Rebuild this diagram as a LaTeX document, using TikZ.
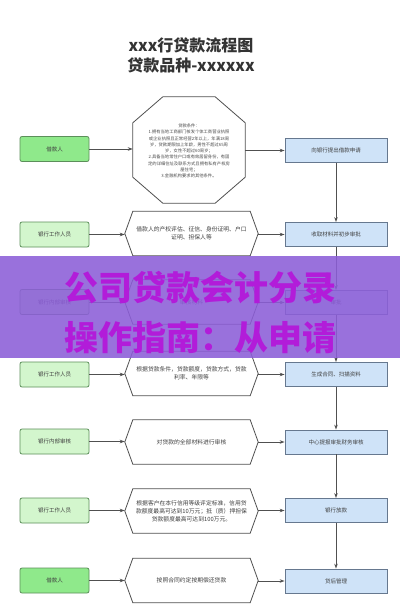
\documentclass[tikz,border=0pt]{standalone}
\usepackage{fontspec}
\setmainfont{Noto Sans CJK SC}
\newfontfamily\cjk{Noto Sans CJK SC}
\usetikzlibrary{arrows.meta}
\definecolor{gfillA}{HTML}{8FE98B}
\definecolor{gfillB}{HTML}{D3F6CD}
\definecolor{gdraw}{HTML}{5C8F5A}
\definecolor{bfill}{HTML}{CFE3F8}
\definecolor{bdraw}{HTML}{66788F}
\definecolor{ldraw}{HTML}{505050}
\definecolor{band}{HTML}{8C5ED8}
\definecolor{wmark}{HTML}{B21CD9}
\definecolor{ttl}{HTML}{333333}
\tikzset{
  gbox/.style={draw=gdraw, line width=0.8pt, rounded corners=2pt, minimum width=69pt, minimum height=25pt, inner sep=0pt, font=\fontsize{5.5}{6.5}\selectfont, text=black!75},
  gboxA/.style={gbox, fill=gfillA},
  gboxB/.style={gbox, fill=gfillB},
  bbox/.style={draw=bdraw, line width=0.8pt, fill=bfill, minimum width=102pt, minimum height=24pt, inner sep=0pt, font=\fontsize{5.5}{6.5}\selectfont, text=black!75},
  hexnode/.style={minimum width=133pt, minimum height=44pt, inner sep=0pt, align=center, font=\fontsize{5.8}{8}\selectfont, text=black!75},
  hexline/.style={draw=ldraw, line width=0.8pt, fill=white},
  arr/.style={draw=ldraw, line width=0.8pt, -{Stealth[length=5pt,width=3.5pt]}},
}
\newcommand{\hexdraw}[1]{\draw[hexline] (#1.west) -- ([xshift=8pt]#1.north west) -- ([xshift=-8pt]#1.north east) -- (#1.east) -- ([xshift=-8pt]#1.south east) -- ([xshift=8pt]#1.south west) -- cycle;}
\begin{document}
\begin{tikzpicture}[x=1pt,y=-1pt]
\useasboundingbox (0,0) rectangle (400,616);
\fill[white] (0,0) rectangle (400,616);
% title
\node[font=\fontsize{16}{18}\selectfont\bfseries, text=ttl] (t1) at (191,45) {xxx行贷款流程图};
\node[font=\fontsize{16}{18}\selectfont\bfseries, text=ttl] (t2) at (191,65) {贷款品种-xxxxxx};

% row 1
\node[gboxA] (g1) at (54.5,149) {借款人};
\node[minimum width=112pt, minimum height=106pt, inner sep=0pt] (oct) at (189,150) {};
\draw[hexline] ([xshift=30pt]oct.north west) -- ([xshift=-30pt]oct.north east) -- ([yshift=-26pt]oct.north east) -- ([yshift=26pt]oct.south east) -- ([xshift=-30pt]oct.south east) -- ([xshift=30pt]oct.south west) -- ([yshift=26pt]oct.south west) -- ([yshift=-26pt]oct.north west) -- cycle;
\node[align=center, font=\fontsize{4.3}{6.3}\selectfont, text=black!70] (octtext) at (189,151) {贷款条件：\\1.拥有当地工商部门核发个体工商营业执照\\或企业执照且正常经营2年以上，年满18周\\岁，贷款期限加上年龄，男性不超过65周\\岁，女性不超过60周岁；\\2.具备当地常住户口或有效居留身份，有固\\定的详细住址及联系方式且拥有私有产权房\\屋住宅；\\3.金融机构要求的其他条件。};
\node[bbox] (b1) at (336,150.5) {向银行提出借款申请};

% row 2
\node[gboxB] (g2) at (54.5,234.5) {银行工作人员};
\node[hexnode] (h2) at (191.5,233.5) {};
\hexdraw{h2}
\node[hexnode] (h2t) at (191.5,233.5) {借款人的产权评估、征信、身份证明、户口\\证明、担保人等};
\node[bbox] (b2) at (336,234.5) {收取材料并初步审批};

% row 3
\node[gboxB] (g3) at (54.5,302) {银行内部审核};
\node[hexnode] (h3) at (191.5,302) {};
\hexdraw{h3}
\node[hexnode] (h3t) at (191.5,302) {审核材料};
\node[bbox] (b3) at (336,302.5) {审批};

% row 4
\node[gboxB] (g4) at (54.5,374.5) {银行工作人员};
\node[hexnode] (h4) at (191.5,373.5) {};
\hexdraw{h4}
\node[hexnode] (h4t) at (191.5,373.5) {根据贷款条件，贷款额度，贷款方式，贷款\\利率、年限等};
\node[bbox] (b4) at (336,374.5) {生成合同、扫描资料};

% row 5
\node[gboxB] (g5) at (54.5,441.5) {银行内部审核};
\node[hexnode] (h5) at (191.5,442) {};
\hexdraw{h5}
\node[hexnode] (h5t) at (191.5,442) {对贷款的全部材料进行审核};
\node[bbox] (b5) at (336,442) {中心提报审批财务审核};

% row 6
\node[gboxB] (g6) at (54.5,510.5) {银行工作人员};
\node[hexnode] (h6) at (191.5,511) {};
\hexdraw{h6}
\node[hexnode] (h6t) at (191.5,511) {根据客户在本行信用等级评定标准，信用贷\\款额度最高可达到10万元；抵（质）押担保\\贷款额度最高可达到100万元。};
\node[bbox] (b6) at (336,510.5) {银行放款};

% row 7
\node[gboxA] (g7) at (54.5,580.5) {借款人};
\node[hexnode] (h7) at (191.5,580.5) {};
\hexdraw{h7}
\node[hexnode] (h7t) at (191.5,580.5) {按照合同约定按期偿还贷款};
\node[bbox] (b7) at (336,581) {贷后管理};

% horizontal arrows
\draw[arr] (g1.east) -- (g1.east -| oct.west);
\draw[arr] (oct.east |- b1.west) -- (b1.west);
\foreach \i in {2,...,7}{
  \draw[arr] (g\i.east) -- (g\i.east -| h\i.west);
  \draw[arr] (h\i.east |- b\i.west) -- (b\i.west);
}
% vertical arrows
\draw[arr] (b1.south) -- (b2.north);
\draw[arr] (b2.south) -- (b3.north);
\draw[arr] (b3.south) -- (b4.north);
\draw[arr] (b4.south) -- (b5.north);
\draw[arr] (b5.south) -- (b6.north);
\draw[arr] (b6.south) -- (b7.north);

% watermark band
\fill[band, opacity=0.88] (0,256) rectangle (400,358);
\node[font=\fontsize{34}{36}\selectfont\bfseries, text=wmark] (w1) at (200,288) {公司贷款会计分录};
\node[font=\fontsize{34}{36}\selectfont\bfseries, text=wmark] (w2) at (200,338) {操作指南：从申请};
\end{tikzpicture}
\end{document}
